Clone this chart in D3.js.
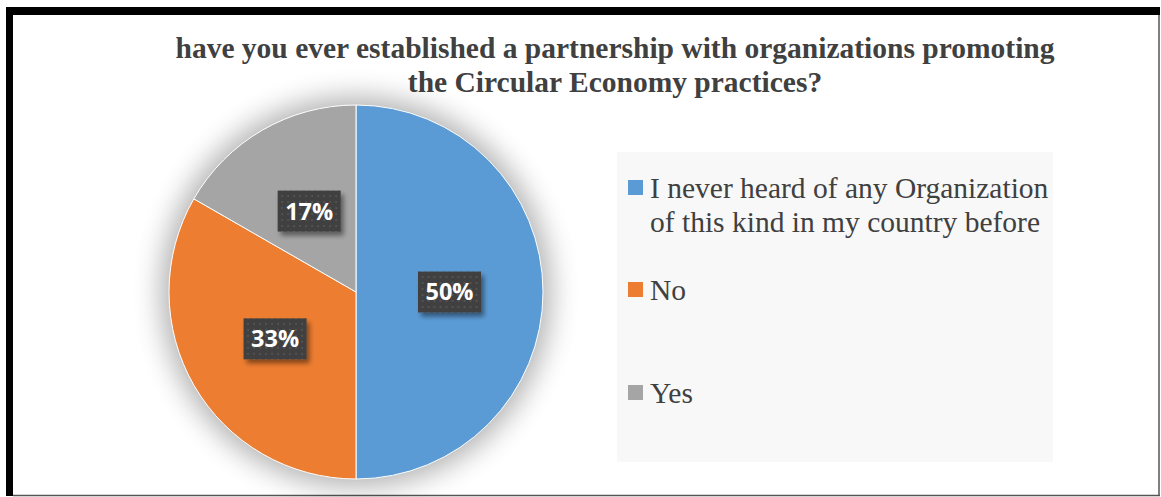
<!DOCTYPE html>
<html><head><meta charset="utf-8">
<script src="https://cdn.jsdelivr.net/npm/d3@7"></script>
<style>html,body{margin:0;padding:0;background:#fff;}svg{display:block;}</style>
</head><body>
<script>
const titleLines = ["have you ever established a partnership with organizations promoting", "the Circular Economy practices?"];
const categories = ["I never heard of any Organization of this kind in my country before", "No", "Yes"];
const legendLines = [["I never heard of any Organization", "of this kind in my country before"], ["No"], ["Yes"]];
const values = [50, 33.3, 16.7];
const valueLabels = ["50%", "33%", "17%"];
const colors = ["#5B9BD5", "#ED7D31", "#A5A5A5"];

const W = 1161, H = 497;
const svg = d3.select("body").append("svg").attr("width", W).attr("height", H);
const defs = svg.append("defs");

const sh = defs.append("filter").attr("id", "pieShadow").attr("x", "-40%").attr("y", "-40%").attr("width", "180%").attr("height", "180%");
sh.append("feGaussianBlur").attr("stdDeviation", 14);

const ls = defs.append("filter").attr("id", "lblShadow").attr("x", "-30%").attr("y", "-30%").attr("width", "160%").attr("height", "170%");
ls.append("feGaussianBlur").attr("in", "SourceAlpha").attr("stdDeviation", 2.5).attr("result", "b");
ls.append("feOffset").attr("in", "b").attr("dx", 3).attr("dy", 4).attr("result", "o");
ls.append("feComponentTransfer").attr("in", "o").attr("result", "o2").append("feFuncA").attr("type", "linear").attr("slope", 0.45);
const lm = ls.append("feMerge");
lm.append("feMergeNode").attr("in", "o2");
lm.append("feMergeNode").attr("in", "SourceGraphic");

const pat = defs.append("pattern").attr("id", "dots").attr("patternUnits", "userSpaceOnUse").attr("width", 6).attr("height", 6);
pat.append("rect").attr("width", 6).attr("height", 6).attr("fill", "#3f3f3f");
pat.append("circle").attr("cx", 3).attr("cy", 3).attr("r", 1.1).attr("fill", "#575757");

svg.append("rect").attr("x", 0).attr("y", 0).attr("width", W).attr("height", H).attr("fill", "#fff");

// frame
svg.append("line").attr("x1", 13).attr("x2", 1160).attr("y1", 495.5).attr("y2", 495.5).attr("stroke", "#555").attr("stroke-width", 1.5);
svg.append("line").attr("x1", 1159).attr("x2", 1159).attr("y1", 12).attr("y2", 496).attr("stroke", "#555").attr("stroke-width", 1.5);
svg.append("rect").attr("x", 6).attr("y", 7).attr("width", 1154).attr("height", 8).attr("fill", "#000");
svg.append("rect").attr("x", 6).attr("y", 7).attr("width", 7).attr("height", 489).attr("fill", "#000");

// title
const title = svg.append("text").attr("text-anchor", "middle")
  .attr("font-family", "'Liberation Serif', 'Times New Roman', serif").attr("font-weight", "bold")
  .attr("font-size", 29.5).attr("fill", "#404040");
titleLines.forEach((t, i) => title.append("tspan").attr("x", 615).attr("y", 58 + i * 34).text(t));

// pie
const cx = 356, cy = 292, R = 187;
const g = svg.append("g").attr("transform", `translate(${cx},${cy})`);
g.append("circle").attr("r", R + 8).attr("fill", "#000").attr("opacity", 0.3).attr("filter", "url(#pieShadow)");
const pie = d3.pie().sort(null).value(d => d)(values);
const arc = d3.arc().innerRadius(0).outerRadius(R);
g.selectAll("path.slice").data(pie).join("path").attr("class", "slice")
  .attr("d", arc).attr("fill", (d, i) => colors[i]).attr("stroke", "#fff").attr("stroke-width", 1);

const bw = 63, bh = 41;
const lbl = g.selectAll("g.lbl").data(pie).join("g").attr("class", "lbl")
  .attr("transform", d => { const c = arc.centroid(d); return `translate(${c[0]},${c[1]})`; });
lbl.append("rect").attr("x", -bw / 2).attr("y", -bh / 2).attr("width", bw).attr("height", bh)
  .attr("fill", "url(#dots)").attr("filter", "url(#lblShadow)");
lbl.append("text").attr("text-anchor", "middle").attr("dy", "0.36em")
  .attr("font-family", "'Open Sans', 'Liberation Sans', sans-serif").attr("font-weight", "bold")
  .attr("font-size", 23.5).attr("fill", "#fff").text((d, i) => valueLabels[i]);

// legend
svg.append("rect").attr("x", 617).attr("y", 152).attr("width", 436).attr("height", 310).attr("fill", "#f8f8f8");
const legY = [198, 300, 403];
const lg = svg.selectAll("g.leg").data(categories).join("g").attr("class", "leg");
lg.append("rect").attr("x", 628).attr("y", (d, i) => legY[i] - 18).attr("width", 15).attr("height", 15).attr("fill", (d, i) => colors[i]);
const lt = lg.append("text").attr("font-family", "'Liberation Serif', 'Times New Roman', serif")
  .attr("font-size", 29.5).attr("fill", "#404040");
lt.each(function (d, i) {
  legendLines[i].forEach((t, j) => d3.select(this).append("tspan").attr("x", 650).attr("y", legY[i] + j * 34).text(t));
});
</script>
</body></html>
